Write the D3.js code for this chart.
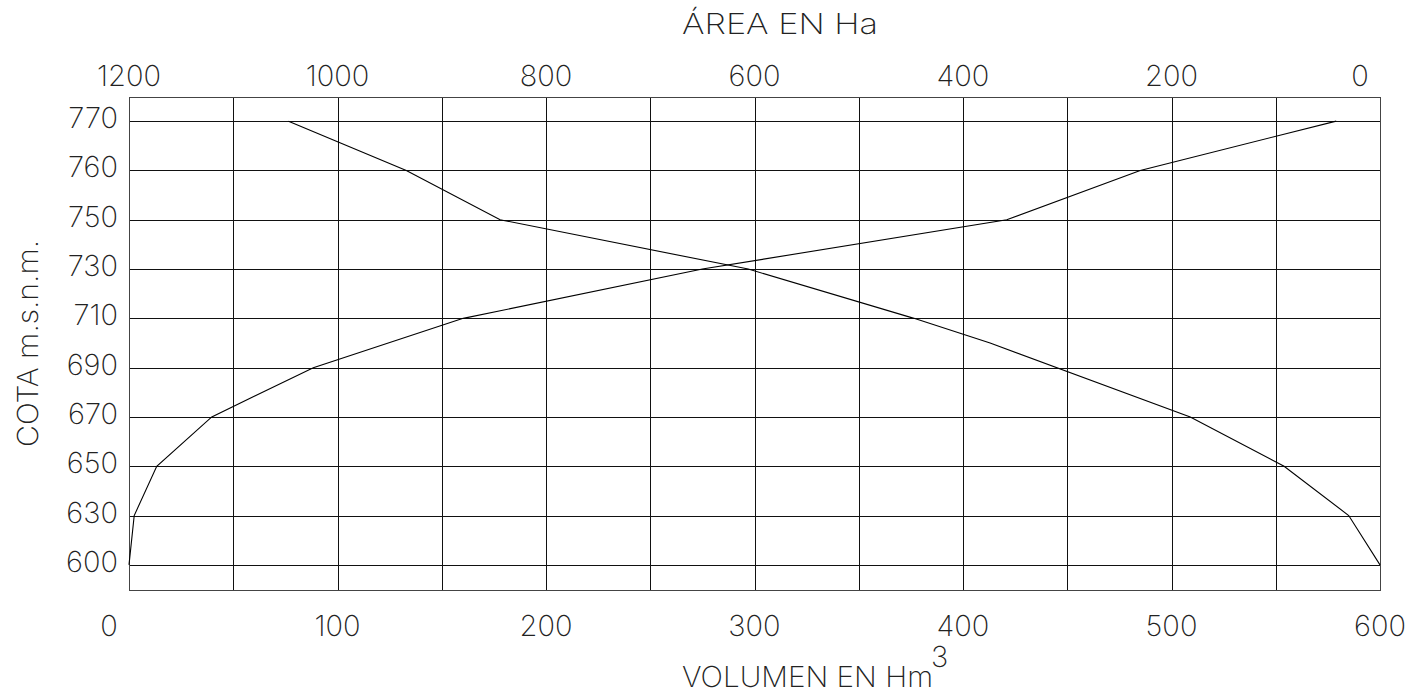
<!DOCTYPE html>
<html><head><meta charset="utf-8">
<script src="https://cdn.jsdelivr.net/npm/d3@7"></script>
<style>
body{margin:0;background:#fff}
text{font-family:Inter,"DejaVu Sans",sans-serif;font-weight:200;fill:#222;-webkit-font-smoothing:antialiased}
</style>
</head><body>
<svg id="c" width="1412" height="694"></svg>
<script>
// ---- data ----
const cotaTicks = [770, 760, 750, 730, 710, 690, 670, 650, 630, 600];
const volumeTicks = [0, 100, 200, 300, 400, 500, 600];
const areaTicks = [1200, 1000, 800, 600, 400, 200, 0];
const volumeCota = [600, 630, 650, 670, 690, 710, 730, 750, 760, 770];
const volumeValues = [0, 2.5, 13.3, 39.7, 88.4, 160.3, 275, 421, 485, 579];
const areaCota = [770, 760, 750, 730, 710, 700, 670, 650, 630, 600];
const areaValues = [1047, 934, 844, 606, 447, 374, 182, 92, 30, 0];

// ---- layout ----
const L = 129, R = 1380, T = 96.5, B = 589.5;
const svg = d3.select("#c");

const xVol = d3.scaleLinear().domain([0, 600]).range([L, R]);
const xArea = d3.scaleLinear().domain([1200, 0]).range([L, R]);
const yPoint = d3.scalePoint().domain(cotaTicks).range([T, B]).padding(0.5);
// piecewise-linear scale through the equally spaced cota ticks
const yCota = d3.scaleLinear().domain(cotaTicks).range(cotaTicks.map(d => yPoint(d)));

const grid = svg.append("g").attr("stroke", "#111").attr("stroke-width", 1).attr("shape-rendering", "crispEdges");
grid.selectAll("line.v").data(d3.range(0, 601, 50)).join("line")
  .attr("x1", d => Math.round(xVol(d)) + 0.5).attr("x2", d => Math.round(xVol(d)) + 0.5)
  .attr("y1", T).attr("y2", B);
grid.selectAll("line.h").data(cotaTicks).join("line")
  .attr("x1", L).attr("x2", R + 1)
  .attr("y1", d => Math.round(yPoint(d)) + 0.5).attr("y2", d => Math.round(yPoint(d)) + 0.5);
grid.append("rect").attr("x", L + 0.5).attr("y", Math.round(T) + 0.5)
  .attr("width", R - L).attr("height", Math.round(B) - Math.round(T))
  .attr("fill", "none").attr("stroke", "#444");

// ---- curves ----
const lineVol = d3.line().x(d => xVol(d[1])).y(d => yCota(d[0]));
svg.append("path").datum(volumeCota.map((c, i) => [c, volumeValues[i]]))
  .attr("d", lineVol).attr("fill", "none").attr("stroke", "#000").attr("stroke-width", 1.1);
const lineArea = d3.line().x(d => xArea(d[1])).y(d => yCota(d[0]));
svg.append("path").datum(areaCota.map((c, i) => [c, areaValues[i]]))
  .attr("d", lineArea).attr("fill", "none").attr("stroke", "#000").attr("stroke-width", 1.1);

// ---- tick labels ----
const fs = 29;
svg.append("g").selectAll("text").data(volumeTicks).join("text")
  .attr("x", d => xVol(d) + (d === 0 ? -20 : 0)).attr("y", 636)
  .attr("text-anchor", "middle").attr("font-size", fs).text(d => d);
svg.append("g").selectAll("text").data(areaTicks).join("text")
  .attr("x", d => xArea(d) + (d === 0 ? -20 : 0)).attr("y", 86)
  .attr("text-anchor", "middle").attr("font-size", fs).text(d => d);
svg.append("g").selectAll("text").data(cotaTicks).join("text")
  .attr("x", 118).attr("y", d => yPoint(d) + 7)
  .attr("text-anchor", "end").attr("font-size", fs).text(d => d);

// ---- titles ----
svg.append("text").attr("x", 682).attr("y", 34).attr("font-size", fs)
  .attr("textLength", 196).attr("lengthAdjust", "spacingAndGlyphs").text("ÁREA EN Ha");
svg.append("text").attr("x", 682).attr("y", 687).attr("font-size", fs)
  .attr("textLength", 251).attr("lengthAdjust", "spacingAndGlyphs").text("VOLUMEN EN Hm");
svg.append("text").attr("x", 931).attr("y", 667).attr("font-size", fs).text("3");
svg.append("text").attr("transform", "translate(37.5,343.5) rotate(-90)")
  .attr("text-anchor", "middle").attr("font-size", fs)
  .attr("textLength", 207).attr("lengthAdjust", "spacingAndGlyphs").text("COTA m.s.n.m.");
</script>
</body></html>
